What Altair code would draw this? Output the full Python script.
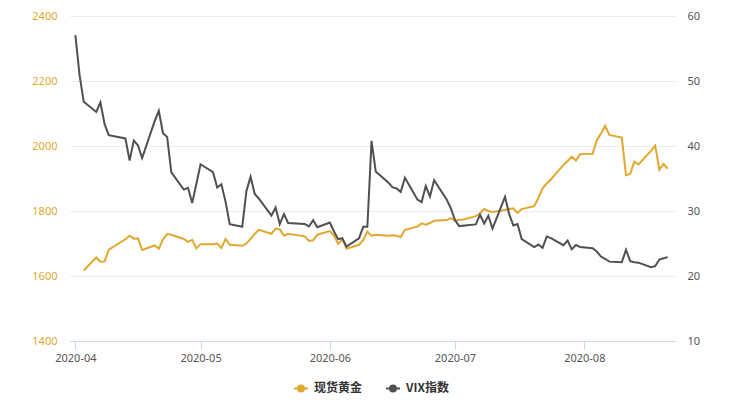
import altair as alt
import pandas as pd

# ---- data ----
vix_dates = [
    "2020-04-01", "2020-04-02", "2020-04-03", "2020-04-06", "2020-04-07", "2020-04-08", "2020-04-09",
    "2020-04-13", "2020-04-14", "2020-04-15", "2020-04-16", "2020-04-17", "2020-04-20", "2020-04-21",
    "2020-04-22", "2020-04-23", "2020-04-24", "2020-04-27", "2020-04-28", "2020-04-29", "2020-04-30",
    "2020-05-01", "2020-05-04", "2020-05-05", "2020-05-06", "2020-05-07", "2020-05-08", "2020-05-11",
    "2020-05-12", "2020-05-13", "2020-05-14", "2020-05-15", "2020-05-18", "2020-05-19", "2020-05-20",
    "2020-05-21", "2020-05-22", "2020-05-26", "2020-05-27", "2020-05-28", "2020-05-29", "2020-06-01",
    "2020-06-02", "2020-06-03", "2020-06-04", "2020-06-05", "2020-06-08", "2020-06-09", "2020-06-10",
    "2020-06-11", "2020-06-12", "2020-06-15", "2020-06-16", "2020-06-17", "2020-06-18", "2020-06-19",
    "2020-06-22", "2020-06-23", "2020-06-24", "2020-06-25", "2020-06-26", "2020-06-29", "2020-06-30",
    "2020-07-01", "2020-07-02", "2020-07-06", "2020-07-07", "2020-07-08", "2020-07-09", "2020-07-10",
    "2020-07-13", "2020-07-14", "2020-07-15", "2020-07-16", "2020-07-17", "2020-07-20", "2020-07-21",
    "2020-07-22", "2020-07-23", "2020-07-24", "2020-07-27", "2020-07-28", "2020-07-29", "2020-07-30",
    "2020-07-31", "2020-08-03", "2020-08-04", "2020-08-05", "2020-08-06", "2020-08-07", "2020-08-10",
    "2020-08-11", "2020-08-12", "2020-08-13", "2020-08-14", "2020-08-17", "2020-08-18", "2020-08-19",
    "2020-08-20", "2020-08-21",
]
vix_values = [
    57.06, 50.91, 46.80, 45.24, 46.70, 43.35, 41.67,
    41.17, 37.76, 40.84, 40.11, 38.15, 43.83, 45.41,
    41.98, 41.38, 35.93, 33.29, 33.57, 31.23, 34.15,
    37.19, 35.97, 33.61, 34.12, 31.44, 27.98, 27.57,
    33.04, 35.28, 32.61, 31.89, 29.30, 30.53, 27.99,
    29.53, 28.16, 28.01, 27.62, 28.59, 27.51, 28.23,
    26.84, 25.66, 25.81, 24.52, 25.81, 27.57, 27.57,
    40.79, 36.09, 34.40, 33.67, 33.47, 32.94, 35.12,
    31.77, 31.37, 33.84, 32.22, 34.73, 31.78, 30.43,
    28.62, 27.68, 27.94, 29.43, 28.08, 29.26, 27.29,
    32.19, 29.52, 27.76, 28.00, 25.68, 24.46, 24.84,
    24.32, 26.08, 25.84, 24.74, 25.44, 24.10, 24.76,
    24.46, 24.28, 23.76, 22.99, 22.65, 22.21, 22.13,
    24.03, 22.28, 22.13, 22.05, 21.35, 21.51, 22.54,
    22.72, 22.90,
]

gold_dates = [
    "2020-04-03", "2020-04-06", "2020-04-07", "2020-04-08", "2020-04-09",
    "2020-04-13", "2020-04-14", "2020-04-15", "2020-04-16", "2020-04-17", "2020-04-20", "2020-04-21",
    "2020-04-22", "2020-04-23", "2020-04-24", "2020-04-27", "2020-04-28", "2020-04-29", "2020-04-30",
    "2020-05-01", "2020-05-04", "2020-05-05", "2020-05-06", "2020-05-07", "2020-05-08", "2020-05-11",
    "2020-05-12", "2020-05-13", "2020-05-14", "2020-05-15", "2020-05-18", "2020-05-19", "2020-05-20",
    "2020-05-21", "2020-05-22", "2020-05-26", "2020-05-27", "2020-05-28", "2020-05-29", "2020-06-01",
    "2020-06-02", "2020-06-03", "2020-06-04", "2020-06-05", "2020-06-08", "2020-06-09", "2020-06-10",
    "2020-06-11", "2020-06-12", "2020-06-15", "2020-06-16", "2020-06-17", "2020-06-18", "2020-06-19",
    "2020-06-22", "2020-06-23", "2020-06-24", "2020-06-25", "2020-06-26", "2020-06-29", "2020-06-30",
    "2020-07-01", "2020-07-02", "2020-07-03", "2020-07-06", "2020-07-07", "2020-07-08", "2020-07-09",
    "2020-07-10", "2020-07-13", "2020-07-14", "2020-07-15", "2020-07-16", "2020-07-17", "2020-07-20",
    "2020-07-21", "2020-07-22", "2020-07-23", "2020-07-24", "2020-07-27", "2020-07-28", "2020-07-29",
    "2020-07-30", "2020-07-31", "2020-08-03", "2020-08-04", "2020-08-05", "2020-08-06", "2020-08-07",
    "2020-08-10", "2020-08-11", "2020-08-12", "2020-08-13", "2020-08-14", "2020-08-17", "2020-08-18",
    "2020-08-19", "2020-08-20", "2020-08-21",
]
gold_values = [
    1617, 1657, 1644, 1645, 1681,
    1713, 1724, 1715, 1716, 1680, 1694, 1684,
    1713, 1729, 1727, 1714, 1705, 1711, 1685,
    1698, 1698, 1700, 1686, 1714, 1696, 1693,
    1700, 1714, 1730, 1742, 1730, 1746, 1744,
    1724, 1730, 1722, 1708, 1710, 1727, 1738,
    1724, 1699, 1713, 1684, 1696, 1710, 1737,
    1724, 1727, 1724, 1725, 1724, 1720, 1742,
    1752, 1762, 1758, 1763, 1770, 1772, 1778,
    1770, 1773, 1774, 1784, 1793, 1806, 1800,
    1797, 1803, 1806, 1808, 1794, 1806, 1815,
    1840, 1870, 1885, 1897, 1942, 1954, 1967,
    1955, 1975, 1976, 2018, 2038, 2062, 2034,
    2026, 1910, 1914, 1952, 1943, 1985, 2001,
    1927, 1945, 1930,
]

series_names = ["现货黄金", "VIX指数"]
series_colors = ["#E0A82E", "#505050"]
gold_ticks = [1400, 1600, 1800, 2000, 2200, 2400]
vix_ticks = [10, 20, 30, 40, 50, 60]

gold_df = pd.DataFrame({"date": gold_dates, "value": gold_values, "series": series_names[0]})
vix_df = pd.DataFrame({"date": vix_dates, "value": vix_values, "series": series_names[1]})

LABEL_FONT = "Noto Sans"
x_domain = [
    alt.DateTime(year=2020, month=3, date=30, hours=17, utc=True),
    alt.DateTime(year=2020, month=8, date=22, hours=18, utc=True),
]

x_enc = alt.X(
    "date:T",
    scale=alt.Scale(type="utc", domain=x_domain),
    axis=alt.Axis(
        title=None, format="%Y-%m", tickCount="month", grid=False,
        domainColor="#ccd6eb", tickColor="#ccd6eb", tickSize=8, labelPadding=3,
        labelColor="#555555", labelFont=LABEL_FONT, labelFontSize=11,
    ),
)

color_enc = alt.Color(
    "series:N",
    scale=alt.Scale(domain=series_names, range=series_colors),
    legend=alt.Legend(
        title=None, orient="none", direction="horizontal", legendX=223, legendY=364,
        symbolType=(
            "M-1,0L1,0"
            "M-0.43,0a0.43,0.43 0 1,0 0.86,0a0.43,0.43 0 1,0 -0.86,0"
            "M-0.14,0a0.14,0.14 0 1,0 0.28,0a0.14,0.14 0 1,0 -0.28,0"
        ),
        symbolSize=196, symbolStrokeWidth=2, labelOffset=5, columnPadding=19,
        labelFont="Noto Sans CJK SC", labelFontSize=12, labelFontWeight="bold",
        labelColor="#333333",
    ),
)

gold_line = alt.Chart(gold_df).mark_line(strokeWidth=2).encode(
    x=x_enc,
    y=alt.Y(
        "value:Q",
        scale=alt.Scale(domain=[1400, 2400], nice=False, zero=False),
        axis=alt.Axis(
            title=None, values=gold_ticks, format="d", domain=False, ticks=False, grid=True,
            gridColor="#ebebeb", labelColor=series_colors[0], labelPadding=13,
            labelFont=LABEL_FONT, labelFontSize=11,
        ),
    ),
    color=color_enc,
)

vix_line = alt.Chart(vix_df).mark_line(strokeWidth=2).encode(
    x=x_enc,
    y=alt.Y(
        "value:Q",
        scale=alt.Scale(domain=[10, 60], nice=False, zero=False),
        axis=alt.Axis(
            title=None, orient="right", values=vix_ticks, format="d", domain=False, ticks=False,
            grid=False, labelColor="#555555", labelPadding=12,
            labelFont=LABEL_FONT, labelFontSize=11,
        ),
    ),
    color=color_enc,
)

chart = (
    alt.layer(gold_line, vix_line)
    .resolve_scale(y="independent")
    .properties(
        width=605, height=325,
        padding={"left": 62, "top": 8, "right": 50, "bottom": 60},
        autosize=alt.AutoSizeParams(type="none"),
    )
    .configure_view(stroke=None)
)

chart.save("out.html", embed_options={"renderer": "svg", "actions": False})
